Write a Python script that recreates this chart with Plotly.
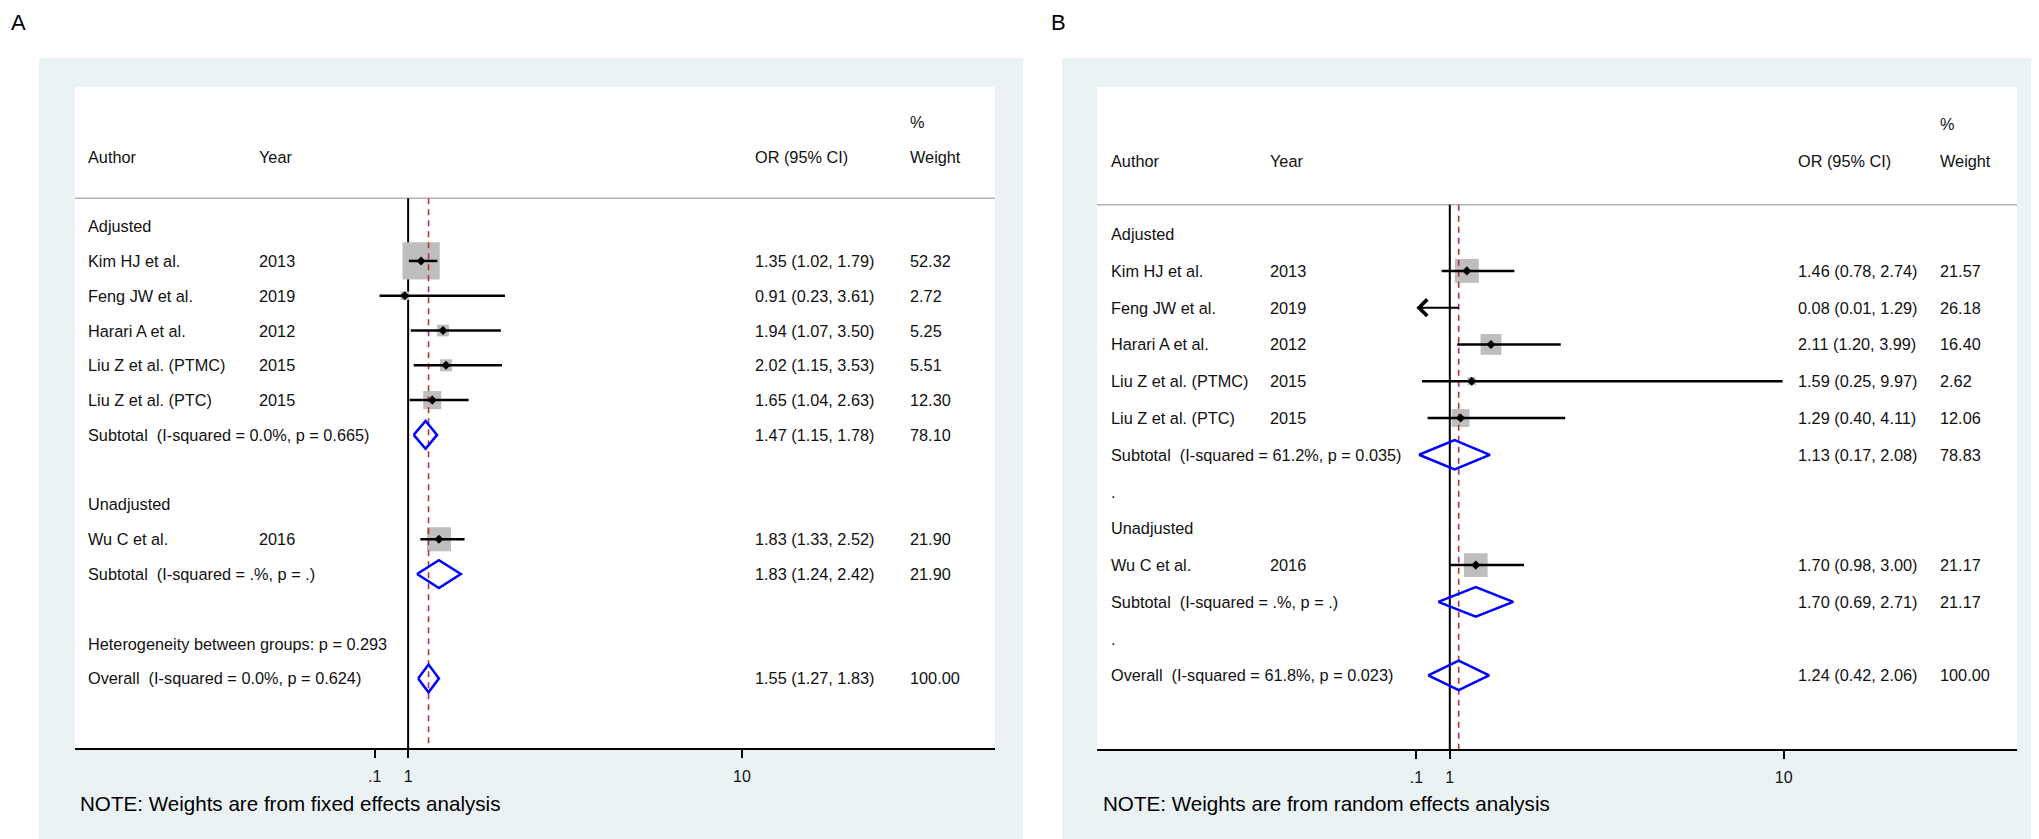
import math
import plotly.graph_objects as go
from plotly.subplots import make_subplots

# ---- data ----
studies = ["Kim HJ et al.", "Feng JW et al.", "Harari A et al.",
           "Liu Z et al. (PTMC)", "Liu Z et al. (PTC)", "Wu C et al."]
years = ["2013", "2019", "2012", "2015", "2015", "2016"]
study_rows = [1, 2, 3, 4, 5, 9]

a_or = [1.35, 0.91, 1.94, 2.02, 1.65, 1.83]
a_lo = [1.02, 0.23, 1.07, 1.15, 1.04, 1.33]
a_hi = [1.79, 3.61, 3.50, 3.53, 2.63, 2.52]
a_wt = [52.32, 2.72, 5.25, 5.51, 12.30, 21.90]

a_pool_lab = ["Subtotal  (I-squared = 0.0%, p = 0.665)",
              "Subtotal  (I-squared = .%, p = .)",
              "Overall  (I-squared = 0.0%, p = 0.624)"]
a_pool_or = [1.47, 1.83, 1.55]
a_pool_lo = [1.15, 1.24, 1.27]
a_pool_hi = [1.78, 2.42, 1.83]
a_pool_wt = [78.10, 21.90, 100.00]
a_pool_rows = [6, 10, 13]
a_extra = [("Adjusted", 0), ("Unadjusted", 8), ("Heterogeneity between groups: p = 0.293", 12)]

b_or = [1.46, 0.08, 2.11, 1.59, 1.29, 1.70]
b_lo = [0.78, 0.01, 1.20, 0.25, 0.40, 0.98]
b_hi = [2.74, 1.29, 3.99, 9.97, 4.11, 3.00]
b_wt = [21.57, 26.18, 16.40, 2.62, 12.06, 21.17]

b_pool_lab = ["Subtotal  (I-squared = 61.2%, p = 0.035)",
              "Subtotal  (I-squared = .%, p = .)",
              "Overall  (I-squared = 61.8%, p = 0.023)"]
b_pool_or = [1.13, 1.70, 1.24]
b_pool_lo = [0.17, 0.69, 0.42]
b_pool_hi = [2.08, 2.71, 2.06]
b_pool_wt = [78.83, 21.17, 100.00]
b_pool_rows = [6, 10, 12]
b_extra = [("Adjusted", 0), (".", 7), ("Unadjusted", 8), (".", 11)]

tick_vals = [0.1, 1, 10]
tick_text = [".1", "1", "10"]

W, H = 2039, 839
ARIAL = "Liberation Sans, Arial, sans-serif"
BLUEBG = "#EAF2F3"


def px(x):
    return x / W


def py(y):
    return (H - y) / H


panels = [
    dict(col=1, xr=[-7.98, 16.82], box=(67, 987, 79, 740), outer=(31, 1015), bottom=15,
         unit=37.1, rowpx=34.8, cols=(78, 249, 745, 900),
         note="NOTE: Weights are from fixed effects analysis", notex=70,
         tag="A", tagx=1,
         est=a_or, lo=a_lo, hi=a_hi, wt=a_wt,
         plab=a_pool_lab, por=a_pool_or, plo=a_pool_lo, phi=a_pool_hi, pwt=a_pool_wt, prow=a_pool_rows,
         extra=a_extra),
    dict(col=2, xr=[-8.51, 16.29], box=(1089, 2009, 79, 741), outer=(1054, 2039), bottom=14,
         unit=37.1, rowpx=36.8, cols=(1101, 1260, 1788, 1930),
         note="NOTE: Weights are from random effects analysis", notex=1093,
         tag="B", tagx=1041,
         est=b_or, lo=b_lo, hi=b_hi, wt=b_wt,
         plab=b_pool_lab, por=b_pool_or, plo=b_pool_lo, phi=b_pool_hi, pwt=b_pool_wt, prow=b_pool_rows,
         extra=b_extra),
]

fig = make_subplots(rows=1, cols=2)
shapes = []
annots = []

for p in panels:
    c = p["col"]
    xa = "x" if c == 1 else "x%d" % c
    ya = "y" if c == 1 else "y%d" % c
    x0, x1, y0, y1 = p["box"]
    xmin = tick_vals[0]

    # backgrounds
    shapes.append(dict(type="rect", xref="paper", yref="paper", layer="below",
                       x0=px(p["outer"][0]), x1=px(p["outer"][1]), y0=0, y1=py(50),
                       fillcolor=BLUEBG, line=dict(width=0)))
    shapes.append(dict(type="rect", xref="paper", yref="paper", layer="below",
                       x0=px(x0), x1=px(x1), y0=py(y1), y1=py(y0),
                       fillcolor="white", line=dict(width=0)))
    shapes.append(dict(type="line", xref="paper", yref=ya, layer="below",
                       x0=px(x0), x1=px(x1), y0=-0.8, y1=-0.8,
                       line=dict(color="#B4B4B4", width=1.5)))
    # null line
    shapes.append(dict(type="line", xref=xa, yref=ya, layer="below",
                       x0=1, x1=1, y0=-0.8, y1=p["bottom"], line=dict(color="black", width=2)))

    # weight boxes
    for e, w, r in zip(p["est"], p["wt"], study_rows):
        if e < xmin:
            continue
        side = 5.15 * math.sqrt(w)
        hw = side / 2 / p["unit"]
        hh = side / 2 / p["rowpx"]
        shapes.append(dict(type="rect", xref=xa, yref=ya, layer="below",
                           x0=e - hw, x1=e + hw, y0=r - hh, y1=r + hh,
                           fillcolor="#BEBEBE", line=dict(width=0)))

    # overall effect line
    shapes.append(dict(type="line", xref=xa, yref=ya, layer="below",
                       x0=p["por"][-1], x1=p["por"][-1], y0=-0.8, y1=p["bottom"],
                       line=dict(color="#B8323C", width=1.6, dash="6px,5px")))

    # CI lines
    cx, cy = [], []
    for l, h, r in zip(p["lo"], p["hi"], study_rows):
        if l < xmin:
            annots.append(dict(x=xmin, y=r, ax=h, ay=r, xref=xa, yref=ya, axref=xa, ayref=ya,
                               text="", showarrow=True, arrowhead=4, arrowsize=1.6,
                               arrowwidth=2, arrowcolor="black", standoff=0))
            continue
        cx += [l, h, None]
        cy += [r, r, None]
    fig.add_trace(go.Scatter(x=cx, y=cy, mode="lines", line=dict(color="black", width=2.5),
                             hoverinfo="skip"), row=1, col=c)
    ex = [e for e in p["est"] if e >= xmin]
    ey = [r for e, r in zip(p["est"], study_rows) if e >= xmin]
    fig.add_trace(go.Scatter(x=ex, y=ey, mode="markers",
                             marker=dict(symbol="diamond", size=7, color="black")), row=1, col=c)

    # pooled diamonds
    dx, dy = [], []
    for e, l, h, r in zip(p["por"], p["plo"], p["phi"], p["prow"]):
        dx += [l, e, h, e, l, None]
        dy += [r, r - 0.4, r, r + 0.4, r, None]
    fig.add_trace(go.Scatter(x=dx, y=dy, mode="lines", line=dict(color="#0000FF", width=2.5),
                             hoverinfo="skip"), row=1, col=c)

    # axes
    fig.update_xaxes(range=p["xr"], domain=[px(x0), px(x1)], tickvals=tick_vals, ticktext=tick_text,
                     showgrid=False, zeroline=False, showline=True, linecolor="black", linewidth=2,
                     ticks="outside", ticklen=8, tickwidth=2, tickcolor="black", ticklabelstandoff=5,
                     tickfont=dict(family=ARIAL, size=16, color="#111"), row=1, col=c)
    fig.update_yaxes(range=[p["bottom"], -4], domain=[py(y1), py(y0)], visible=False,
                     showgrid=False, zeroline=False, row=1, col=c)

    # table text
    cau, cyr, cor, cwt = p["cols"]
    tf = dict(family=ARIAL, size=16.3, color="#111")

    def txt(x, y, s):
        annots.append(dict(x=px(x), y=y, xref="paper", yref=ya, text=s.replace("  ", " \u00a0"),
                           showarrow=False, xanchor="left", yanchor="middle", font=tf))

    txt(cau, -2, "Author")
    txt(cyr, -2, "Year")
    txt(cor, -2, "OR (95% CI)")
    txt(cwt, -3, "%")
    txt(cwt, -2, "Weight")
    for s, r in p["extra"]:
        txt(cau, r, s)
    for s, yv, e, l, h, w, r in zip(studies, years, p["est"], p["lo"], p["hi"], p["wt"], study_rows):
        txt(cau, r, s)
        txt(cyr, r, yv)
        txt(cor, r, "%.2f (%.2f, %.2f)" % (e, l, h))
        txt(cwt, r, "%.2f" % w)
    for s, e, l, h, w, r in zip(p["plab"], p["por"], p["plo"], p["phi"], p["pwt"], p["prow"]):
        txt(cau, r, s)
        txt(cor, r, "%.2f (%.2f, %.2f)" % (e, l, h))
        txt(cwt, r, "%.2f" % w)

    annots.append(dict(x=px(p["notex"]), y=py(795), xref="paper", yref="paper", text=p["note"],
                       showarrow=False, xanchor="left", yanchor="middle",
                       font=dict(family=ARIAL, size=20.6, color="black")))
    annots.append(dict(x=px(p["tagx"]), y=py(15), xref="paper", yref="paper", text=p["tag"],
                       showarrow=False, xanchor="left", yanchor="middle",
                       font=dict(family=ARIAL, size=22, color="black")))

fig.update_layout(width=W, height=H, margin=dict(l=0, r=0, t=0, b=0), showlegend=False,
                  paper_bgcolor="white", plot_bgcolor="rgba(0,0,0,0)",
                  shapes=shapes, annotations=annots)
fig.write_html("out.html")
